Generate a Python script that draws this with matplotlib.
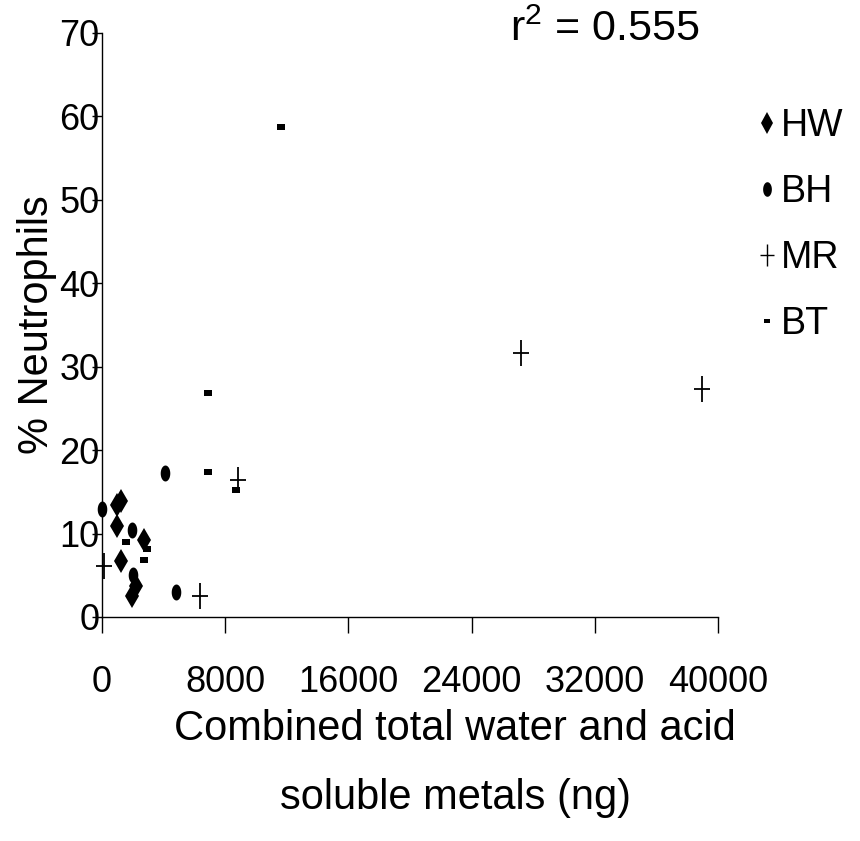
import numpy as np
import matplotlib
matplotlib.use("Agg")
import matplotlib.pyplot as plt
from matplotlib.path import Path
from matplotlib.lines import Line2D

# ---- data ----
hw_x = [955, 1255, 990, 2750, 1255, 2200, 1950]
hw_y = [13.4, 13.9, 10.9, 9.2, 6.75, 3.7, 2.5]
bh_x = [0, 1970, 2000, 4100, 4830]
bh_y = [13.0, 10.4, 5.0, 17.3, 3.0]
mr_x = [130, 6370, 8860, 27235, 38980]
mr_y = [6.1, 2.5, 16.4, 31.7, 27.3]
bt_x = [6890, 6890, 8690, 11615, 1540, 2900, 2750]
bt_y = [26.8, 17.35, 15.2, 58.7, 8.95, 8.15, 6.8]
series_names = ["HW", "BH", "MR", "BT"]
x_ticks = [0, 8000, 16000, 24000, 32000, 40000]
y_ticks = [0, 10, 20, 30, 40, 50, 60, 70]
r2_text = "r$^{2}$ = 0.555"
x_label_1 = "Combined total water and acid"
x_label_2 = "soluble metals (ng)"
y_label = "% Neutrophils"

plt.rcParams['font.family'] = ['Liberation Sans', 'DejaVu Sans']
plt.rcParams['mathtext.fontset'] = 'custom'
plt.rcParams['mathtext.rm'] = 'Liberation Sans'
plt.rcParams['mathtext.it'] = 'Liberation Sans'
plt.rcParams['mathtext.default'] = 'regular'

# custom markers
t = np.linspace(0, 2 * np.pi, 40)
ellipse = Path(np.column_stack([0.3 * np.cos(t), 0.5 * np.sin(t)]), closed=True)
cross = Path([(0, -0.5), (0, 0.5), (-0.3, 0), (0.3, 0)],
             [Path.MOVETO, Path.LINETO, Path.MOVETO, Path.LINETO])
dash = Path([(-0.5, -0.35), (0.5, -0.35), (0.5, 0.35), (-0.5, 0.35), (-0.5, -0.35)],
            closed=True)

fig = plt.figure(figsize=(8.6, 8.41), dpi=100)
ax = fig.add_axes([102 / 860, 1 - 617 / 841, 616 / 860, 584 / 841])

ax.plot(hw_x, hw_y, linestyle='none', marker='d', markersize=12.5,
        color='black', markeredgewidth=0, clip_on=False)
ax.plot(bh_x, bh_y, linestyle='none', marker=ellipse, markersize=11.5,
        color='black', markeredgewidth=0, clip_on=False)
ax.plot(mr_x, mr_y, linestyle='none', marker=cross, markersize=18.5,
        color='black', markerfacecolor='none', markeredgewidth=1.3, clip_on=False)
ax.plot(bt_x, bt_y, linestyle='none', marker=dash, markersize=5.2,
        color='black', markeredgewidth=0, clip_on=False)

ax.set_xlim(0, 40000)
ax.set_ylim(0, 70)
ax.set_xticks(x_ticks)
ax.set_yticks(y_ticks)
ax.set_xticklabels([str(v) for v in x_ticks])
ax.set_yticklabels([str(v) for v in y_ticks])
ax.spines['top'].set_visible(False)
ax.spines['right'].set_visible(False)
ax.spines['left'].set_linewidth(1.0)
ax.spines['bottom'].set_linewidth(1.0)
ax.tick_params(axis='x', direction='out', length=11.5, width=1.0,
               labelsize=26, pad=23)
ax.tick_params(axis='y', direction='out', length=7.2, width=1.0,
               labelsize=26, pad=-5.5)

fig.text(455 / 860, 1 - 729 / 841, x_label_1, ha='center', va='center', fontsize=30)
fig.text(455 / 860, 1 - 798 / 841, x_label_2, ha='center', va='center', fontsize=30)
fig.text(37 / 860, 1 - 325 / 841, y_label, ha='center', va='center',
         rotation=90, fontsize=30)
fig.text(605 / 860, 1 - 30 / 841, r2_text, ha='center', va='center', fontsize=31)

handles = [
    Line2D([], [], linestyle='none', marker='d', markersize=11, color='black',
           markeredgewidth=0),
    Line2D([], [], linestyle='none', marker=ellipse, markersize=10.5, color='black',
           markeredgewidth=0),
    Line2D([], [], linestyle='none', marker=cross, markersize=16, color='black',
           markerfacecolor='none', markeredgewidth=1.0),
    Line2D([], [], linestyle='none', marker=dash, markersize=4.5, color='black',
           markeredgewidth=0),
]
leg = fig.legend(handles, series_names, loc='upper left',
                 bbox_to_anchor=(760 / 860, 1 - 108 / 841), frameon=False,
                 fontsize=27, handlelength=0.35, handletextpad=0.2,
                 labelspacing=0.8, borderaxespad=0, borderpad=0)

fig.savefig("out.png", dpi=100)
